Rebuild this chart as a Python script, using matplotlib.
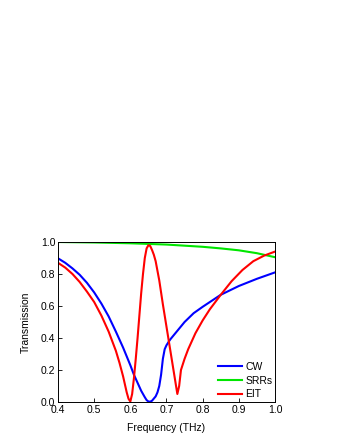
import matplotlib
matplotlib.use('Agg')
import matplotlib.pyplot as plt

plt.rcParams['font.family'] = ['Liberation Sans', 'DejaVu Sans']

# frequency (THz) and transmission values
cw_f = [0.40, 0.42, 0.44, 0.46, 0.48, 0.50, 0.52, 0.54, 0.56, 0.58, 0.60, 0.61, 0.62,
        0.63, 0.64, 0.645, 0.65, 0.655, 0.66, 0.67, 0.675, 0.68, 0.685, 0.69, 0.695,
        0.70, 0.71, 0.73, 0.75, 0.775, 0.80, 0.85, 0.90, 0.95, 1.00]
cw_t = [0.898, 0.87, 0.835, 0.795, 0.745, 0.685, 0.615, 0.535, 0.44, 0.34, 0.23, 0.17,
        0.12, 0.07, 0.03, 0.012, 0.003, 0.002, 0.008, 0.035, 0.06, 0.10, 0.17, 0.27, 0.33,
        0.355, 0.39, 0.445, 0.50, 0.555, 0.595, 0.67, 0.725, 0.77, 0.81]

srr_f = [0.40, 0.50, 0.60, 0.70, 0.80, 0.85, 0.90, 0.95, 1.00]
srr_t = [1.0, 0.997, 0.992, 0.984, 0.97, 0.96, 0.948, 0.93, 0.905]

eit_f = [0.40, 0.42, 0.44, 0.46, 0.48, 0.50, 0.52, 0.54, 0.56, 0.57, 0.58, 0.585,
         0.59, 0.595, 0.60, 0.605, 0.61, 0.615, 0.62, 0.625, 0.63, 0.635, 0.64, 0.645,
         0.65, 0.655, 0.66, 0.665, 0.67, 0.68, 0.69, 0.70, 0.71, 0.72, 0.725, 0.73,
         0.735, 0.74, 0.75, 0.76, 0.78, 0.80, 0.82, 0.85, 0.88, 0.91, 0.94, 0.97, 1.00]
eit_t = [0.87, 0.84, 0.80, 0.75, 0.69, 0.625, 0.54, 0.44, 0.32, 0.245, 0.16, 0.11,
         0.06, 0.02, 0.003, 0.05, 0.15, 0.27, 0.40, 0.54, 0.68, 0.80, 0.90, 0.96,
         0.98, 0.975, 0.95, 0.92, 0.88, 0.76, 0.61, 0.47, 0.33, 0.19, 0.12, 0.05,
         0.10, 0.20, 0.27, 0.33, 0.43, 0.51, 0.58, 0.67, 0.755, 0.825, 0.88, 0.915, 0.94]

fig = plt.figure(figsize=(3.4, 4.4), dpi=100)
ax = fig.add_axes([58 / 340, 38 / 440, 217 / 340, 160 / 440])

ax.plot(cw_f, cw_t, color='#0000ff', lw=1.5, label='CW')
ax.plot(srr_f, srr_t, color='#00e600', lw=1.5, label='SRRs')
ax.plot(eit_f, eit_t, color='#ff0000', lw=1.5, label='EIT')

ax.set_xlim(0.4, 1.0)
ax.set_ylim(0.0, 1.0)
ax.set_xticks([0.4, 0.5, 0.6, 0.7, 0.8, 0.9, 1.0])
ax.set_yticks([0.0, 0.2, 0.4, 0.6, 0.8, 1.0])
ax.tick_params(direction='in', length=3, width=0.6, labelsize=7.5, pad=2)
for s in ax.spines.values():
    s.set_linewidth(0.7)
ax.set_xlabel('Frequency (THz)', fontsize=7.5, labelpad=6)
ax.set_ylabel('Transmission', fontsize=7.5, labelpad=7)

ax.legend(loc='lower right', frameon=False, fontsize=7.5, handlelength=2.3,
          handletextpad=0.35, labelspacing=0.35, borderaxespad=0.05,
          borderpad=0.2)

fig.savefig('out.png', dpi=100)
